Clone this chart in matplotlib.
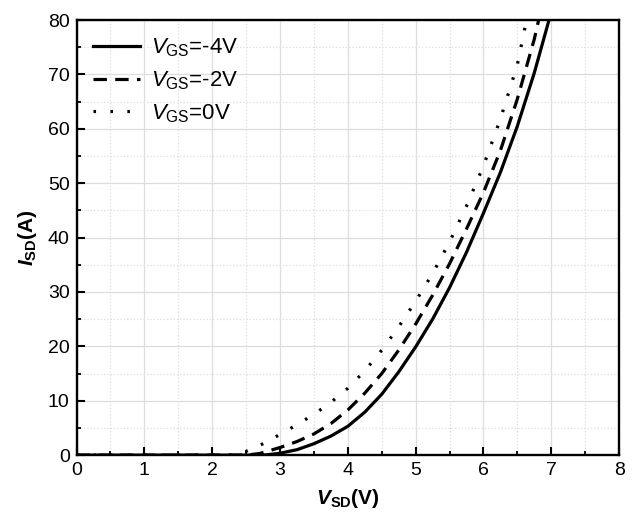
import numpy as np
import matplotlib.pyplot as plt
from matplotlib.ticker import MultipleLocator

plt.rcParams['font.family'] = ['Liberation Sans', 'DejaVu Sans']
plt.rcParams['mathtext.fontset'] = 'custom'
plt.rcParams['mathtext.rm'] = 'Liberation Sans'
plt.rcParams['mathtext.it'] = 'Liberation Sans:italic'
plt.rcParams['mathtext.bf'] = 'Liberation Sans:bold'
plt.rcParams['mathtext.bfit'] = 'Liberation Sans:italic:bold'

# -----------------------------
# Data
# -----------------------------
vsd_m4 = [0, 1, 2, 2.5, 2.8, 3.0, 3.25, 3.5, 3.75, 4.0, 4.25, 4.5, 4.75, 5.0,
          5.25, 5.5, 5.75, 6.0, 6.25, 6.5, 6.75, 7.0]
isd_m4 = [0, 0, 0, 0, 0.05, 0.35, 1.0, 2.1, 3.5, 5.3, 7.9, 11.2, 15.3, 19.9,
          25.0, 30.8, 37.3, 44.5, 52.0, 60.5, 70.3, 81.5]

vsd_m2 = [0, 1, 2, 2.5, 2.7, 3.0, 3.25, 3.5, 3.75, 4.0, 4.25, 4.5, 4.75, 5.0,
          5.25, 5.5, 5.75, 6.0, 6.25, 6.5, 6.75, 6.85]
isd_m2 = [0, 0, 0, 0, 0.3, 1.4, 2.5, 3.9, 5.8, 8.3, 11.4, 15.0, 19.3, 24.1,
          29.4, 35.2, 41.6, 48.3, 56.0, 65.5, 76.5, 82.0]

vsd_0 = [0, 1, 2, 2.3, 2.5, 2.75, 3.0, 3.25, 3.5, 3.75, 4.0, 4.25, 4.5, 4.75,
         5.0, 5.25, 5.5, 5.75, 6.0, 6.25, 6.5, 6.7]
isd_0 = [0, 0, 0, 0, 0.7, 2.1, 3.8, 5.6, 7.5, 9.7, 12.3, 15.5, 19.3, 23.6,
         28.3, 33.4, 39.2, 45.8, 53.2, 61.8, 71.8, 84.0]

labels = [r'$\mathit{V}_{\mathrm{GS}}$=-4V', r'$\mathit{V}_{\mathrm{GS}}$=-2V',
          r'$\mathit{V}_{\mathrm{GS}}$=0V']

# -----------------------------
# Plot
# -----------------------------
fig = plt.figure(figsize=(6.33, 5.28), dpi=100)
ax = fig.add_axes([0.121, 0.138, 0.857, 0.824])

lw = 2.3
ax.plot(vsd_m4, isd_m4, color='black', linewidth=lw, linestyle='-', label=labels[0])
ax.plot(vsd_m2, isd_m2, color='black', linewidth=lw, linestyle=(0, (4.2, 2.6)), label=labels[1])
ax.plot(vsd_0, isd_0, color='black', linewidth=lw, linestyle=(0, (0.8, 4.5)), label=labels[2])

ax.set_xlim(0, 8)
ax.set_ylim(0, 80)
ax.xaxis.set_major_locator(MultipleLocator(1))
ax.xaxis.set_minor_locator(MultipleLocator(0.5))
ax.yaxis.set_major_locator(MultipleLocator(10))
ax.yaxis.set_minor_locator(MultipleLocator(5))

ax.grid(which='major', color='#dddddd', linewidth=0.9, linestyle='-')
ax.grid(which='minor', color='#dddddd', linewidth=0.9, linestyle=':')
ax.set_axisbelow(True)

for s in ax.spines.values():
    s.set_linewidth(1.7)
ax.tick_params(which='major', direction='in', length=6, width=1.5,
               labelsize=14, top=False, right=False, pad=5)
ax.tick_params(which='minor', direction='in', length=3, width=1.3,
               top=False, right=False)

ax.set_xlabel(r'$\mathbfit{V}_{\mathbf{SD}}$(V)', fontsize=15, fontweight='bold', labelpad=6)
ax.set_ylabel(r'$\mathbfit{I}_{\mathbf{SD}}$(A)', fontsize=15, fontweight='bold', labelpad=6)

ax.legend(loc='upper left', frameon=False, fontsize=16, handlelength=2.1,
          handletextpad=0.5, labelspacing=0.45, borderaxespad=0.35)

plt.savefig('out.png', dpi=100)
plt.close()
